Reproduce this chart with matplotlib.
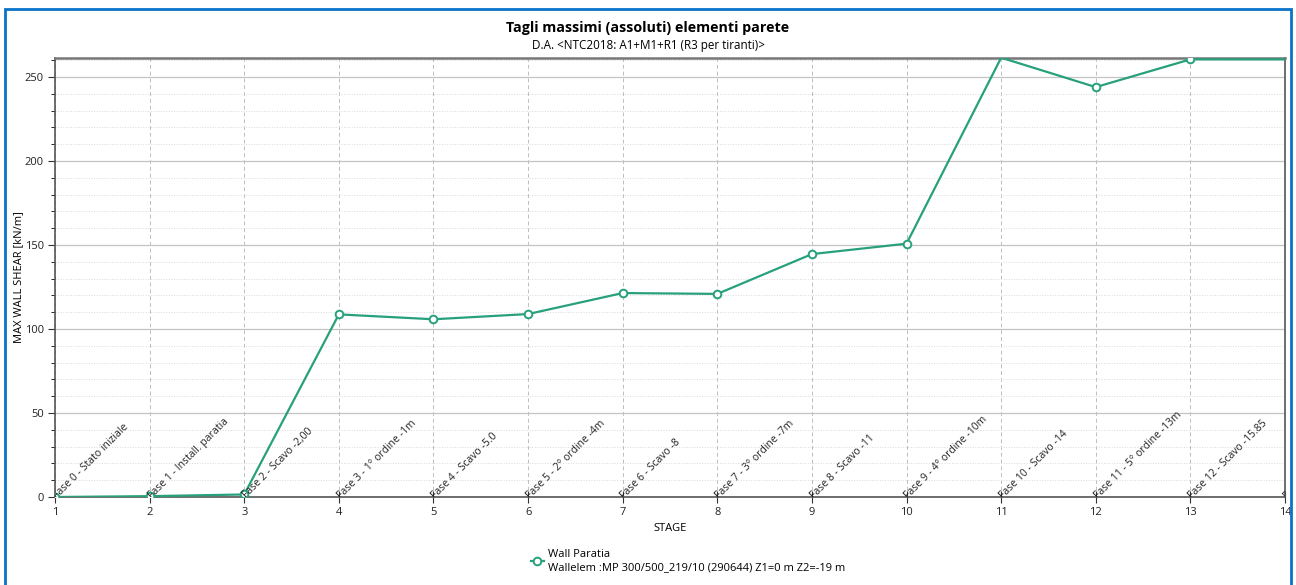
import matplotlib
matplotlib.use('Agg')
import matplotlib.pyplot as plt
from matplotlib.patches import Rectangle
from matplotlib.ticker import MultipleLocator

plt.rcParams['font.family'] = ['Open Sans', 'DejaVu Sans']

# Data
stages = [1, 2, 3, 4, 5, 6, 7, 8, 9, 10, 11, 12, 13, 14]
shear = [0, 0.5, 1.5, 108.7, 105.8, 108.9, 121.4, 120.9, 144.6, 150.8, 261.5, 244.0, 260.5, 260.5]
phase_labels = ["Fase 0 - Stato iniziale", "Fase 1 - Install. paratia", "Fase 2 - Scavo -2,00",
                "Fase 3 - 1° ordine -1m", "Fase 4 - Scavo -5.0", "Fase 5 - 2° ordine -4m",
                "Fase 6 - Scavo -8", "Fase 7 - 3° ordine -7m", "Fase 8 - Scavo -11",
                "Fase 9 - 4° ordine -10m", "Fase 10 - Scavo -14", "Fase 11 - 5° ordine -13m",
                "Fase 12 - Scavo -15.85", "Fa"]

line_color = '#27a07c'

fig = plt.figure(figsize=(12.96, 5.85), dpi=100)
ax = fig.add_axes([55/1296, 1-497/585, (1285-55)/1296, (497-57.7)/585])

# markers at the top edge / right edge are hidden in the original
shown = [i for i in range(len(stages)) if i not in (10, 13)]
ax.plot(stages, shear, color=line_color, lw=1.6, marker='o', ms=5.5, markevery=shown,
        mfc='white', mec=line_color, mew=1.4, clip_on=True, zorder=3,
        label="Wall Paratia\nWallelem :MP 300/500_219/10 (290644) Z1=0 m Z2=-19 m")

ax.set_xlim(1, 14)
ax.set_ylim(0, max(shear))
ax.xaxis.set_major_locator(MultipleLocator(1))
ax.yaxis.set_major_locator(MultipleLocator(50))
ax.yaxis.set_minor_locator(MultipleLocator(10))

ax.grid(axis='y', which='major', color='#c4c4c4', lw=0.9, ls='-')
ax.grid(axis='y', which='minor', color='#dadada', lw=0.7, ls=':')
ax.grid(axis='x', which='major', color='#bdbdbd', lw=0.7, ls=(0, (4, 3)))
ax.set_axisbelow(True)

for sp in ax.spines.values():
    sp.set_color('#555555')
    sp.set_linewidth(1.2)
ax.spines['top'].set_color('#777777')
ax.spines['top'].set_linewidth(1.8)

ax.tick_params(axis='both', labelsize=8, color='#333333', labelcolor='#222222')
ax.tick_params(axis='x', which='major', direction='inout', length=8, pad=3)
ax.tick_params(axis='y', which='major', direction='out', length=5, pad=3)
ax.tick_params(axis='y', which='minor', direction='out', length=3)

for x, lab in zip(stages, phase_labels):
    ax.text(x, 0, lab, rotation=45, rotation_mode='anchor', ha='left', va='center',
            fontsize=7.5, color='#222222', clip_on=True, zorder=4)

ax.set_xlabel('STAGE', fontsize=8, labelpad=4)
ax.set_ylabel('MAX WALL SHEAR [kN/m]', fontsize=8)
ax.yaxis.set_label_coords(-31/1230, 0.5)

fig.text(0.5, 1-28/585, 'Tagli massimi (assoluti) elementi parete', ha='center', va='center',
         fontsize=10.3, fontweight='bold')
fig.text(0.5, 1-46/585, 'D.A. <NTC2018: A1+M1+R1 (R3 per tiranti)>', ha='center', va='center',
         fontsize=8.4)

fig.legend(loc='center left', bbox_to_anchor=(525/1296, 1-561/585), frameon=False,
           fontsize=8, handlelength=1.2, handletextpad=0.4, borderpad=0, labelspacing=0)

# blue frame around the chart
fig.patches.append(Rectangle((5/1296, -0.05), (1291-5)/1296, 1.05-9/585,
                             transform=fig.transFigure, fill=False,
                             edgecolor='#0a72c8', lw=2, zorder=10))

fig.savefig('out.png', dpi=100)
